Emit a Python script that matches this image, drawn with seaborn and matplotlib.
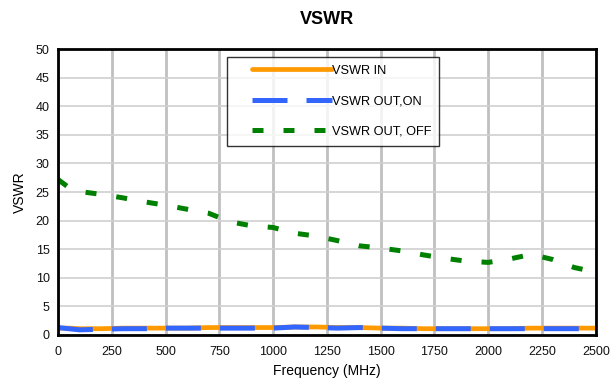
import numpy as np
import pandas as pd
import matplotlib
matplotlib.use("Agg")
import matplotlib.pyplot as plt
from matplotlib.legend_handler import HandlerLine2D
import seaborn as sns

freq = [0, 50, 100, 200, 300, 400, 500, 600, 700, 800, 900, 1000, 1100, 1200,
        1300, 1400, 1500, 1600, 1700, 1800, 1900, 2000, 2100, 2200, 2300, 2400, 2500]
vswr_in = [1.2, 1.2, 1.1, 1.1, 1.2, 1.2, 1.2, 1.2, 1.3, 1.3, 1.3, 1.3, 1.4, 1.4,
           1.3, 1.3, 1.2, 1.2, 1.1, 1.1, 1.1, 1.1, 1.1, 1.2, 1.2, 1.2, 1.2]
vswr_out_on = [1.3, 1.1, 0.9, 1.0, 1.1, 1.1, 1.2, 1.2, 1.2, 1.2, 1.2, 1.2, 1.4, 1.3,
               1.2, 1.3, 1.2, 1.1, 1.1, 1.1, 1.1, 1.1, 1.1, 1.1, 1.1, 1.1, 1.1]
vswr_out_off = [27.2, 25.8, 25.1, 24.6, 24.0, 23.3, 22.7, 22.0, 21.3, 19.8, 19.1, 18.8, 17.8, 17.3,
                16.5, 15.6, 15.2, 14.7, 14.0, 13.4, 12.9, 12.7, 13.3, 14.1, 13.2, 11.8, 11.0]
labels = ["VSWR IN", "VSWR OUT,ON", "VSWR OUT, OFF"]
x_ticks = [0, 250, 500, 750, 1000, 1250, 1500, 1750, 2000, 2250, 2500]
y_ticks = [0, 5, 10, 15, 20, 25, 30, 35, 40, 45, 50]

sns.set_style("white")
plt.rcParams['font.family'] = ['Liberation Sans', 'DejaVu Sans']
plt.rcParams['text.color'] = 'black'
plt.rcParams['axes.labelcolor'] = 'black'


class OffsetHandler(HandlerLine2D):
    """Legend line handle that starts a bit right of the handle box."""
    def get_xdata(self, legend, xdescent, ydescent, width, height, fontsize):
        start = -xdescent + 0.17 * width
        end = -xdescent + width
        return np.array([start, end]), np.array([(start + end) / 2])


fig = plt.figure(figsize=(6.13, 3.87), dpi=100)
ax = fig.add_axes([0.0946, 0.1344, 0.8774, 0.7386])

df = pd.DataFrame({"f": freq, "in": vswr_in, "on": vswr_out_on, "off": vswr_out_off})

sns.lineplot(data=df, x="f", y="in", ax=ax, color="#ff9900", linewidth=3.4,
             label=labels[0], solid_capstyle="round")
sns.lineplot(data=df, x="f", y="on", ax=ax, color="#3366ff", linewidth=3.6,
             linestyle=(0, (7.0, 3.8)), label=labels[1])
sns.lineplot(data=df, x="f", y="off", ax=ax, color="#008000", linewidth=3.6,
             linestyle=(0, (2.2, 4.0)), label=labels[2])

ax.set_xlim(0, 2500)
ax.set_ylim(0, 50)
ax.set_xticks(x_ticks)
ax.set_yticks(y_ticks)
ax.tick_params(axis="both", labelsize=9, direction="out", length=4, width=1.2,
               color="black", pad=2, labelcolor="#111111")
ax.tick_params(axis="x", pad=4)

ax.xaxis.grid(True, color="#c0c0c0", linewidth=2.0)
ax.yaxis.grid(True, color="#d0d0d0", linewidth=1.2)
ax.set_axisbelow(True)
for s in ax.spines.values():
    s.set_color("black")
    s.set_linewidth(2.0)

ax.set_title("VSWR", fontsize=13, fontweight="bold", pad=18, color="black")
ax.set_xlabel("Frequency (MHz)", fontsize=10, labelpad=4)
ax.set_ylabel("VSWR", fontsize=10, labelpad=6)

handles, lbls = ax.get_legend_handles_labels()
leg = ax.legend(handles, lbls, loc="upper left", bbox_to_anchor=(0.315, 0.972),
                fontsize=9.2, handlelength=7.6, handletextpad=0.0, labelspacing=1.45,
                frameon=True, fancybox=False, borderpad=0.6, borderaxespad=0,
                handler_map={h: OffsetHandler() for h in handles})
leg.get_frame().set_edgecolor("black")
leg.get_frame().set_linewidth(1.0)

fig.savefig("out.png", dpi=100)
